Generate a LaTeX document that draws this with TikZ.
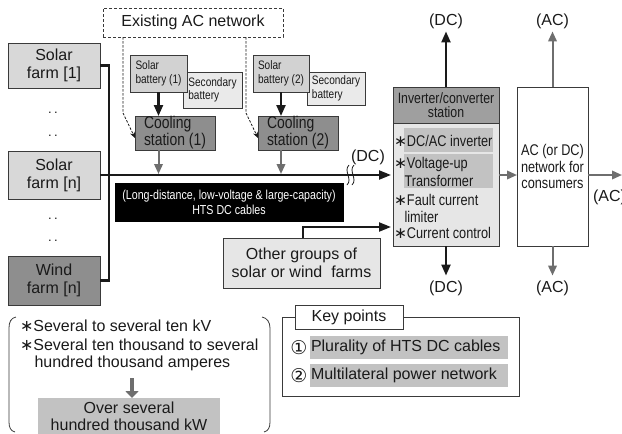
\documentclass[tikz,border=0pt]{standalone}
\usepackage{fontspec}
\setmainfont{Liberation Sans}
\newfontfamily\narrowsf[FakeStretch=0.82]{Liberation Sans}
\newfontfamily\symsf{DejaVu Sans}
\usetikzlibrary{arrows.meta}

\definecolor{edge}{HTML}{3A3A3A}
\definecolor{farm}{HTML}{D8D8D8}
\definecolor{darkbox}{HTML}{8E8E8E}
\definecolor{battery}{HTML}{D2D2D2}
\definecolor{secbat}{HTML}{EAEAEA}
\definecolor{body}{HTML}{E6E6E6}
\definecolor{mark}{HTML}{C2C2C2}
\definecolor{arrowgray}{HTML}{6E6E6E}
\definecolor{ink}{HTML}{1A1A1A}

% asterisk bullet
\newcommand{\bul}{{\symsf ∗}}

\tikzset{
  box/.style={draw=edge, line width=0.8pt, inner sep=0pt, outer sep=0pt, align=center, text=ink},
  plain/.style={inner sep=0pt, outer sep=0pt, text=ink},
  bigtext/.style={font=\fontsize{16}{18}\selectfont},
  smalltext/.style={font=\narrowsf\fontsize{12.3}{13.5}\selectfont},
  cooltext/.style={font=\narrowsf\fontsize{17}{14.5}\selectfont},
  bodytext/.style={font=\narrowsf\fontsize{15.5}{16}\selectfont},
  bus/.style={draw=ink, line width=2.2pt},
  blackarrow/.style={draw=ink, line width=2.2pt, -{Triangle[length=11pt,width=9pt]}},
  grayarrow/.style={draw=arrowgray, line width=2pt, -{Triangle[length=10pt,width=8.5pt]}},
  feedarrow/.style={draw=ink, line width=0.8pt, dashed, dash pattern=on 2.5pt off 1.5pt, -{Stealth[length=6pt,width=5pt]}},
}

\begin{document}
\begin{tikzpicture}[x=1pt,y=-1pt]
\useasboundingbox (0,0) rectangle (622,434);

% ---------------- generation side ----------------
\node[box, bigtext, fill=farm, minimum width=92pt, minimum height=45pt] (sf1) at (54,65.5) {Solar\\farm [1]};
\node[box, bigtext, fill=farm, minimum width=92pt, minimum height=48pt] (sfn) at (54,175) {Solar\\farm [n]};
\node[box, bigtext, fill=darkbox, minimum width=92pt, minimum height=49pt] (wf) at (54,280.5) {Wind\\farm [n]};
\node[plain, font=\fontsize{13}{13}\selectfont] (d1) at (53,113) {.\hspace{2.5pt}.};
\node[plain, font=\fontsize{13}{13}\selectfont] (d2) at (53,136) {.\hspace{2.5pt}.};
\node[plain, font=\fontsize{13}{13}\selectfont] (d3) at (53,219) {.\hspace{2.5pt}.};
\node[plain, font=\fontsize{13}{13}\selectfont] (d4) at (53,241) {.\hspace{2.5pt}.};

% collector line of the farms
\draw[bus] (sf1.east) -- ++(9,0) |- (wf.east);

% ---------------- existing network and cooling ----------------
\node[box, bigtext, dashed, dash pattern=on 3pt off 2pt, minimum width=180pt, minimum height=29pt] (acn) at (193,22.5) {Existing AC network};

\node[box, smalltext, fill=secbat, minimum width=59pt, minimum height=36pt, align=left] (sec1) at (212.5,90) {Secondary\\battery};
\node[box, smalltext, fill=battery, minimum width=57pt, minimum height=37pt, align=left] (sb1) at (158.5,73.5) {Solar\\battery (1)};
\node[box, smalltext, fill=secbat, minimum width=58pt, minimum height=33pt, align=left] (sec2) at (336,88.5) {Secondary\\battery};
\node[box, smalltext, fill=battery, minimum width=56pt, minimum height=37pt, align=left] (sb2) at (281,73.5) {Solar\\battery (2)};

\node[box, cooltext, fill=darkbox, minimum width=80pt, minimum height=34pt, align=left] (cs1) at (175,133) {Cooling\\station (1)};
\node[box, cooltext, fill=darkbox, minimum width=80pt, minimum height=34pt, align=left] (cs2) at (298,133) {Cooling\\station (2)};

\draw[blackarrow] (sb1.south) -- (sb1.south |- cs1.north);
\draw[blackarrow] (sb2.south) -- (sb2.south |- cs2.north);

\draw[feedarrow] ([xshift=-70pt]acn.south) -- ++(0,76) -- ([yshift=-5pt]cs1.west);
\draw[feedarrow] ([xshift=53pt]acn.south) -- ++(0,76) -- ([yshift=-5pt]cs2.west);

% ---------------- HTS DC cable ----------------
\node[box, fill=black, draw=black, text=white, font=\narrowsf\fontsize{13}{15}\selectfont, minimum width=228pt, minimum height=38pt] (hts) at (229,202) {(Long-distance, low-voltage \& large-capacity)\\HTS DC cables};

% ---------------- inverter / converter station ----------------
\node[box, fill=body, minimum width=106pt, minimum height=159pt] (inv) at (446,166.5) {};
\node[box, fill=darkbox!85!white, font=\narrowsf\fontsize{15}{13.5}\selectfont, minimum width=106pt, minimum height=36pt, anchor=north] (invh) at (inv.north) {Inverter/converter\\station};
\node[plain, fill=mark, minimum width=89pt, minimum height=24pt] (hl1) at (448.5,140) {};
\node[plain, fill=mark, minimum width=89pt, minimum height=34pt] (hl2) at (448.5,171) {};
\node[plain, bodytext, anchor=west] (i1) at (394,141) {\bul DC/AC inverter};
\node[plain, bodytext, anchor=west] (i2) at (394,164) {\bul Voltage-up};
\node[plain, bodytext, anchor=west] (i3) at (404.5,181) {Transformer};
\node[plain, bodytext, anchor=west] (i4) at (394,200) {\bul Fault current};
\node[plain, bodytext, anchor=west] (i5) at (404.5,216.5) {limiter};
\node[plain, bodytext, anchor=west] (i6) at (394,233) {\bul Current control};

% ---------------- consumer network ----------------
\node[box, fill=white, font=\narrowsf\fontsize{15.5}{16.5}\selectfont, minimum width=71pt, minimum height=159pt] (con) at (552.5,166.5) {AC (or DC)\\network for\\consumers};

% main cable with break mark
\draw[bus, -{Triangle[length=12pt,width=9pt]}] (sfn.east) -- ([xshift=-2pt]sfn.east -| inv.west);
\draw[draw=ink, line width=0.8pt] (349,165) .. controls (343,171) and (353,179) .. (347,185);
\draw[draw=ink, line width=0.8pt] (354,165) .. controls (348,171) and (358,179) .. (352,185);
\node[plain, bigtext] (dcmain) at (368,157) {(DC)};

\draw[grayarrow, shorten >=1pt] (sb1.south |- cs1.south) -- (sb1.south |- sfn.east);
\draw[grayarrow, shorten >=1pt] (sb2.south |- cs2.south) -- (sb2.south |- sfn.east);

% other farm groups
\node[box, bigtext, fill=body, minimum width=157pt, minimum height=50pt] (og) at (301.5,263) {Other groups of\\solar or wind\ \ farms};
\path (og.north) ++(1.5,-11) coordinate (ogk);
\draw[draw=ink, line width=2.2pt, -{Triangle[length=12pt,width=9pt]}] ([xshift=1.5pt]og.north) -- (ogk) -- ([xshift=-2pt]ogk -| inv.west);

% outputs
\node[plain, bigtext] (dcup) at (446,21) {(DC)};
\node[plain, bigtext] (dcdn) at (446,288) {(DC)};
\node[plain, bigtext] (acup) at (552.5,21) {(AC)};
\node[plain, bigtext] (acdn) at (552.5,288) {(AC)};
\node[plain, bigtext, anchor=west] (acright) at (593,197) {(AC)};
\coordinate (rim) at (622,175);

\draw[blackarrow] (inv.north) -- ([yshift=-3pt]dcup.south);
\draw[blackarrow] (inv.south) -- ([yshift=5pt]dcdn.north);
\draw[grayarrow] (con.north) -- ([yshift=-3pt]acup.south);
\draw[grayarrow] (con.south) -- ([yshift=5pt]acdn.north);
\draw[grayarrow] (sfn.east -| inv.east) -- (sfn.east -| con.west);
\draw[grayarrow] (sfn.east -| con.east) -- (rim);

% ---------------- ratings note ----------------
\draw[draw=edge, line width=0.8pt] (16,317) .. controls (11,318) and (9,322) .. (9,328) -- (9,422) .. controls (9,428) and (11,431) .. (15,432);
\draw[draw=edge, line width=0.8pt] (262,317) .. controls (267,318) and (270,322) .. (270,328) -- (270,422) .. controls (270,428) and (268,431) .. (264,432);
\node[plain, bigtext, anchor=west] (r1) at (20,326) {\bul Several to several ten kV};
\node[plain, bigtext, anchor=west] (r2) at (20,344.5) {\bul Several ten thousand to several};
\node[plain, bigtext, anchor=west] (r3) at (34.5,363) {hundred thousand amperes};
\node[plain, fill=mark, bigtext, align=center, minimum width=182pt, minimum height=36pt, font=\fontsize{16}{17}\selectfont] (pw) at (129,416) {Over several\\hundred thousand kW};
\draw[draw=arrowgray, line width=4pt, -{Triangle[length=7pt,width=13pt]}] (132,378) -- (pw.north -| 132,0);

% ---------------- key points ----------------
\node[box, fill=white, minimum width=237pt, minimum height=79pt] (kp) at (400.5,356.5) {};
\node[box, fill=white, bigtext, minimum width=108pt, minimum height=24pt] (kpt) at (349,317) {Key points};
\node[plain, fill=mark, minimum width=198pt, minimum height=23pt] (k1) at (409,347.5) {};
\node[plain, fill=mark, minimum width=198pt, minimum height=23pt] (k2) at (409,375.5) {};
\node[plain, font=\symsf\fontsize{19}{19}\selectfont] (n1) at (299,347.5) {①};
\node[plain, font=\symsf\fontsize{19}{19}\selectfont] (n2) at (299,375.5) {②};
\node[plain, bigtext, anchor=west] (t1) at (311,347.5) {Plurality of HTS DC cables};
\node[plain, bigtext, anchor=west] (t2) at (311,375.5) {Multilateral power network};
\end{tikzpicture}
\end{document}
